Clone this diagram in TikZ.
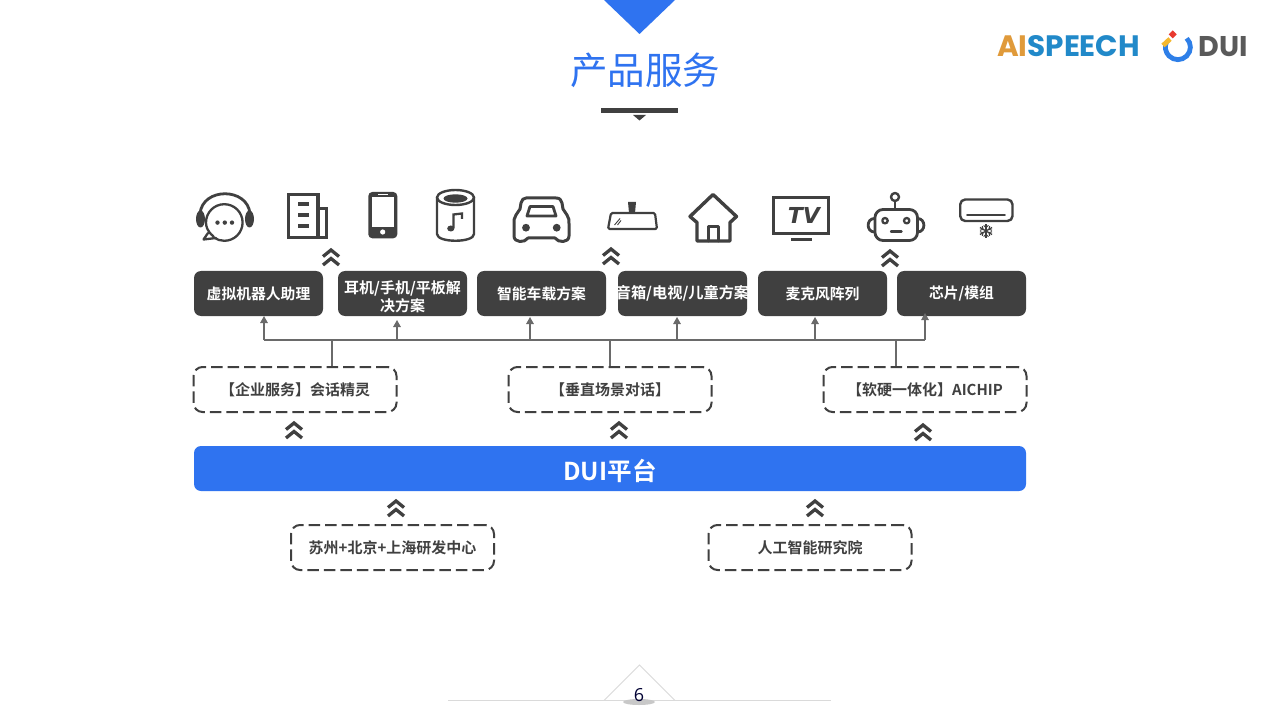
\documentclass[tikz,border=0pt]{standalone}
\usepackage{fontspec}
\setmainfont{Noto Sans CJK SC}[BoldFont={Noto Sans CJK SC Bold}]
\newfontfamily\logofont{Poppins}
\newfontfamily\numfont{Open Sans}
\newfontfamily\tvfont{DejaVu Sans}
\usetikzlibrary{arrows.meta}
\definecolor{brandblue}{HTML}{2F73F0}
\definecolor{darkbox}{HTML}{404040}
\definecolor{rulegrey}{HTML}{DADADA}
\definecolor{linegrey}{HTML}{6A6A6A}
\definecolor{logoorange}{HTML}{E09A3A}
\definecolor{logoblue}{HTML}{2189C9}
\definecolor{logogrey}{HTML}{5A5A5A}
\definecolor{logoyellow}{HTML}{F5B82E}
\definecolor{logored}{HTML}{E8392F}
\definecolor{ringblue}{HTML}{2E7FE8}
\tikzset{
  x=1pt,y=-1pt,
  solutionbox/.style={fill=darkbox,rounded corners=7pt,minimum width=129pt,minimum height=45pt,inner sep=0pt,text=white,font=\fontsize{14.8pt}{18pt}\selectfont\bfseries,align=center},
  boxlabel/.style={inner sep=0pt,text=white,font=\fontsize{15pt}{18pt}\selectfont\bfseries,align=center},
  dashbox/.style={draw=darkbox,line width=2pt,dash pattern=on 11.5pt off 5pt,rounded corners=9pt,minimum width=203pt,minimum height=45pt,inner sep=0pt,text=darkbox,font=\fontsize{15pt}{18pt}\selectfont\bfseries},
  busline/.style={draw=linegrey,line width=1.3pt},
  uparrow/.style={draw=linegrey,line width=1.3pt,-{Triangle[length=7pt,width=7.5pt]}},
  icon/.style={draw=darkbox,line width=3pt,line join=round,line cap=round},
  chev/.pic={\draw[darkbox,line width=3.3pt,line join=miter] (-8,-1.5)--(0,-8)--(8,-1.5) (-8,7)--(0,0.5)--(8,7);}
}
\begin{document}
\begin{tikzpicture}
\useasboundingbox[fill=white] (0,0) rectangle (1279,719);

% header
\fill[brandblue] (604,0)--(675,0)--(639.5,34)--cycle;
\node[text=brandblue,font=\fontsize{37.5pt}{40pt}\selectfont,inner sep=0pt] (title) at (645,70) {产品服务};
\fill[darkbox] (601,108) rectangle (678,113);
\fill[darkbox] (633,115)--(646,115)--(639.5,120.5)--cycle;

% logo
\node[inner sep=0pt,font=\logofont\bfseries\fontsize{29.5pt}{31pt}\selectfont] (aispeech) at (1068.5,46) {\textcolor{logoorange}{AI}\textcolor{logoblue}{SPEECH}};
\draw[ringblue,line width=4.8pt] (1186.7,38.3) arc[start angle=45,end angle=-205,radius=12.5pt];
\fill[logored] (1172.7,30.3)--(1176.7,34.3)--(1172.7,38.3)--(1168.7,34.3)--cycle;
\draw[logoyellow,line width=4.8pt] (1163,45.5)--(1170,39);
\node[inner sep=0pt,text=logogrey,font=\logofont\bfseries\fontsize{28.5pt}{30pt}\selectfont] (dui) at (1223,47) {DUI};

% solution boxes
\node[solutionbox] (s1) at (258.5,293.5) {虚拟机器人助理};
\node[solutionbox] (s2) at (402.5,293.5) {};
\node[boxlabel] (s2label) at ([yshift=-3.5pt]s2.center) {耳机/手机/平板解\\决方案};
\node[solutionbox] (s3) at (541.5,293.5) {智能车载方案};
\node[solutionbox,font=\fontsize{15.2pt}{18pt}\selectfont\bfseries] (s4) at (682.5,293.5) {\makebox[0pt]{音箱/电视/儿童方案}};
\node[solutionbox] (s5) at (822.5,293.5) {麦克风阵列};
\node[solutionbox] (s6) at (961.5,293.5) {芯片/模组};

% dashed boxes
\node[dashbox] (d1) at (295,389.5) {【企业服务】会话精灵};
\node[dashbox] (d2) at (610,389.5) {【垂直场景对话】};
\node[dashbox] (d3) at (925,389.5) {【软硬一体化】AICHIP};
\node[dashbox] (d4) at (392.5,547.5) {苏州+北京+上海研发中心};
\node[dashbox] (d5) at (810,547.5) {人工智能研究院};

% platform
\node[fill=brandblue,rounded corners=7pt,minimum width=832pt,minimum height=45pt,inner sep=0pt] (dui platform) at (610,468.5) {};
\node[inner sep=0pt,text=white,font=\fontsize{24.6pt}{26pt}\selectfont\bfseries] (dui platform label) at ([yshift=-2pt]dui platform.center) {DUI平台};

% bus
\coordinate (busL) at (264,340);
\coordinate (busR) at (925,340);
\coordinate (stemA) at (332,340);
\coordinate (stemB) at (610,340);
\coordinate (stemC) at (896,340);
\coordinate (tap1) at (264,340);
\coordinate (tap2) at (397,340);
\coordinate (tap3) at (530,340);
\coordinate (tap4) at (677,340);
\coordinate (tap5) at (815,340);
\coordinate (tap6) at (925,340);
\coordinate (tip1) at (264,316);
\coordinate (tip2) at (397,320);
\coordinate (tip3) at (530,317);
\coordinate (tip4) at (677,317);
\coordinate (tip5) at (815,317);
\coordinate (tip6) at (925,313);
\draw[busline] (busL)--(busR);
\draw[busline] (stemA |- d1.north)--(stemA);
\draw[busline] (stemB |- d2.north)--(stemB);
\draw[busline] (stemC |- d3.north)--(stemC);
\foreach \i in {1,...,6}{\draw[uparrow] (tap\i)--(tip\i);}

% chevrons
\foreach \cx/\cy in {331/258,611/257,890/259,294/431,619/431,923/433,396/509,815/509}
  \pic at (\cx,\cy) {chev};

% headset
\draw[icon,line width=2.3pt] (213,236) .. controls (207,231) and (206,226) .. (206,222.5) arc[start angle=180,end angle=-125,radius=18.3pt] -- cycle;
\draw[icon,line width=2.3pt] (208,233)--(203.5,239.5)--(216,238);
\draw[icon,line width=2.8pt] (200,214) .. controls (202,187) and (248,187) .. (250,214);
\fill[darkbox] (200.5,219) ellipse[x radius=4.5pt,y radius=8.5pt];
\fill[darkbox] (249.5,219) ellipse[x radius=4.5pt,y radius=8.5pt];
\foreach \dx in {217.5,224.8,232}{\fill[darkbox] (\dx,222.6) circle[radius=2.2pt];}

% building
\draw[icon,line cap=butt,line join=miter,line width=3.2pt] (288.8,194.8) rectangle (318,237.8);
\draw[icon,line cap=butt,line join=miter,line width=3.2pt] (318,208.8)--(326.5,208.8)--(326.5,237.8)--(318,237.8);
\foreach \by in {204,215,226}{\fill[darkbox] (298.3,\by-1.8) rectangle (309,\by+1.8);}

% phone
\fill[darkbox,rounded corners=4pt] (368.3,192) rectangle (397.3,238.3);
\fill[white] (371.7,197.5) rectangle (394,226.7);
\fill[white] (378,193.8) rectangle (388,195.2);
\fill[white] (382.7,232) circle[radius=2.6pt];

% speaker
\draw[icon,line width=2.4pt] (437,197) -- (437,234) .. controls (437,243) and (474,243) .. (474,234) -- (474,197);
\draw[icon,line width=2.4pt] (455.5,197.5) ellipse[x radius=18.5pt,y radius=7.5pt];
\fill[darkbox] (455.5,198.5) ellipse[x radius=12pt,y radius=4.2pt];
\draw[darkbox,line width=2.3pt] (453.5,228)--(453.5,214.5)--(462,213.5)--(462,219);
\fill[darkbox] (450.8,228.5) ellipse[x radius=3.6pt,y radius=3pt];

% car
\draw[icon,line width=3pt] (526,198) -- (556,198) .. controls (560,198) and (561,200) .. (562,203) -- (563,209) -- (567,215) .. controls (569,218) and (569,220) .. (569,224) -- (569,236) .. controls (569,243) and (558,243) .. (555,238) -- (528,238) .. controls (525,243) and (514,243) .. (514,236) -- (514,224) .. controls (514,220) and (514,218) .. (516,215) -- (520,209) -- (521,203) .. controls (522,200) and (523,198) .. (526,198) -- cycle;
\draw[icon,line width=2.8pt] (530,206.5)--(553,206.5)--(556,216)--(527,216)--cycle;
\fill[darkbox] (526,227.7) circle[radius=3.9pt];
\fill[darkbox] (556.7,227.7) circle[radius=3.9pt];

% mirror
\draw[icon,line width=2.2pt,rounded corners=1.5pt] (611,213)--(655,213)--(657,229)--(608,229)--cycle;
\fill[darkbox] (628,202)--(636,202)--(635,213)--(629,213)--cycle;
\draw[darkbox,line width=0.9pt] (614.5,225)--(620,218.5) (617.5,225)--(621,220.5);

% house
\draw[icon,line width=3.4pt] (690,216.5)--(713,194.5)--(736.5,216.5)--(730,222.5)--(730,241)--(697,241)--(697,222.5)--cycle;
\draw[icon,line width=3pt] (708.3,241)--(708.3,227)--(718.3,227)--(718.3,241);

% TV
\draw[icon,line cap=butt,line join=miter,line width=2.8pt] (773.7,197.7) rectangle (828.8,233.3);
\node[inner sep=0pt,text=darkbox,font=\tvfont\bfseries\itshape\fontsize{22pt}{24pt}\selectfont] (tvlabel) at (804,215.5) {TV};
\draw[darkbox,line width=2.8pt] (791,239.3)--(811.5,239.3);

% robot
\draw[icon,line width=2.8pt,rounded corners=8pt] (875,209.5) rectangle (917.5,240.5);
\draw[icon,line width=2.8pt] (874.5,218.5) .. controls (866,218.5) and (866,232) .. (874.5,232);
\draw[icon,line width=2.8pt] (917.5,218.5) .. controls (926,218.5) and (926,232) .. (917.5,232);
\draw[icon,line width=2.4pt] (895,197) circle[radius=4pt];
\draw[icon,line width=2.4pt] (895,201)--(895,209);
\draw[icon,line width=2.3pt] (885,220.7) circle[radius=2.7pt];
\draw[icon,line width=2.3pt] (906.7,220.7) circle[radius=2.7pt];
\draw[icon,line width=2.4pt] (891,231.7)--(901.5,231.7);

% air conditioner
\draw[icon,line width=2.4pt,rounded corners=5pt] (960.2,199.5) rectangle (1012.5,221);
\draw[icon,line width=1.8pt] (967,215)--(1005,215);
\foreach \ang in {0,60,...,300}{
  \begin{scope}[rotate around={\ang:(986,231)}]
    \draw[darkbox,line width=1.3pt] (986,231)--(986,224);
    \draw[darkbox,line width=1pt] (983.6,225.4)--(986,227.6)--(988.4,225.4);
  \end{scope}}

% footer
\draw[rulegrey,line width=1pt] (448,700.5)--(831,700.5);
\draw[rulegrey,line width=1pt] (604,700.5)--(639.5,665)--(675,700.5);
\fill[rulegrey!80!gray] (639,702) ellipse[x radius=16pt,y radius=3pt];
\node[inner sep=0pt,text=black!80!blue,font=\numfont\fontsize{18pt}{20pt}\selectfont] (pagenum) at (639,695.5) {6};
\end{tikzpicture}
\end{document}
